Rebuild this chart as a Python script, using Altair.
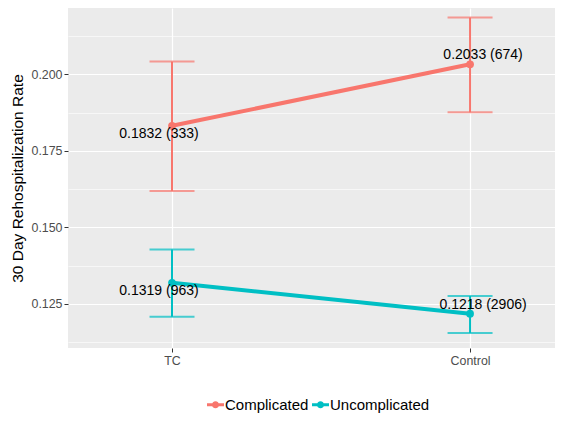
import altair as alt
import pandas as pd

groups = ["TC", "Control"]
complicated_rate = [0.1832, 0.2033]
complicated_n = [333, 674]
complicated_lo = [0.1619, 0.1876]
complicated_hi = [0.2042, 0.2186]
uncomplicated_rate = [0.1319, 0.1218]
uncomplicated_n = [963, 2906]
uncomplicated_lo = [0.1208, 0.1155]
uncomplicated_hi = [0.1428, 0.1276]
series = ["Complicated", "Uncomplicated"]
colors = ["#F8766D", "#00BFC4"]
y_ticks = [0.1125, 0.125, 0.1375, 0.150, 0.1625, 0.175, 0.1875, 0.200, 0.2125]

rows = []
for s, rate, n, lo, hi in [
    ("Complicated", complicated_rate, complicated_n, complicated_lo, complicated_hi),
    ("Uncomplicated", uncomplicated_rate, uncomplicated_n, uncomplicated_lo, uncomplicated_hi),
]:
    for i, (g, r, k, l, h) in enumerate(zip(groups, rate, n, lo, hi)):
        rows.append({"group": g, "gi": i, "series": s, "rate": r, "n": k, "lo": l, "hi": h,
                     "label": f"{r:.4f} ({k})"})
df = pd.DataFrame(rows)

FONT = "Liberation Sans"
x_scale = alt.Scale(domain=[-0.349, 1.285], nice=False, zero=False)
y_scale = alt.Scale(domain=[0.1106, 0.2217], nice=False, zero=False)
color_scale = alt.Scale(domain=series, range=colors)

is_major = "abs(datum.value*40 - round(datum.value*40)) < 0.01"

x_enc = alt.X("gi:Q", scale=x_scale,
              axis=alt.Axis(title=None, domain=False, grid=True, gridColor="white",
                            gridWidth=1.2, values=[0, 1],
                            labelExpr=f"datum.value < 0.5 ? '{groups[0]}' : '{groups[1]}'",
                            tickColor="#333333", tickSize=4,
                            labelColor="#4D4D4D", labelFontSize=12.4, labelFont=FONT,
                            labelPadding=2, labelAngle=0, labelFlush=False))

y_axis = alt.Axis(
    values=y_ticks, domain=False, grid=True, gridColor="white",
    gridWidth={"condition": {"test": is_major, "value": 1.2}, "value": 0.6},
    tickColor="#333333",
    tickSize={"condition": {"test": is_major, "value": 4}, "value": 0},
    labelExpr=f"({is_major}) ? format(datum.value, '.3f') : ''",
    labelColor="#4D4D4D", labelFontSize=12.4, labelFont=FONT, labelPadding=2,
    title="30 Day Rehospitalization Rate", titleFont=FONT, titleFontSize=15.5,
    titleFontWeight="normal", titleColor="black", titlePadding=5,
)

legend_path = ("M-1,-0.18H1V0.18H-1Z "
               "M0.42,0A0.42,0.42 0 1,1 -0.42,0A0.42,0.42 0 1,1 0.42,0Z")
color_enc = alt.Color(
    "series:N", scale=color_scale,
    legend=alt.Legend(title=None, orient="none", direction="horizontal",
                      legendX=139, legendY=388, symbolType=legend_path,
                      symbolSize=289, symbolStrokeWidth=0, symbolOpacity=1,
                      labelFont=FONT, labelFontSize=15, labelColor="black",
                      labelOffset=1, columnPadding=3, padding=0),
)

base = alt.Chart(df)

lines = base.mark_line(strokeWidth=4).encode(
    x=x_enc, y=alt.Y("rate:Q", scale=y_scale, axis=y_axis),
    color=color_enc, detail="series:N",
)
bars = base.mark_rule(strokeWidth=2).encode(
    x=x_enc, y=alt.Y("lo:Q", scale=y_scale), y2="hi:Q", color=color_enc,
)
caps_lo = base.mark_tick(thickness=2, size=45, orient="horizontal").encode(
    x=x_enc, y=alt.Y("lo:Q", scale=y_scale), color=color_enc,
)
caps_hi = base.mark_tick(thickness=2, size=45, orient="horizontal").encode(
    x=x_enc, y=alt.Y("hi:Q", scale=y_scale), color=color_enc,
)
points = base.mark_circle(size=60, opacity=1).encode(
    x=x_enc, y=alt.Y("rate:Q", scale=y_scale), color=color_enc,
)

text_tc = base.mark_text(font=FONT, fontSize=14, color="black", dx=-13, dy=8).encode(
    x=x_enc, y=alt.Y("rate:Q", scale=y_scale), text="label:N",
).transform_filter(alt.datum.gi == 0)
text_ctrl = base.mark_text(font=FONT, fontSize=14, color="black", dx=13, dy=-9).encode(
    x=x_enc, y=alt.Y("rate:Q", scale=y_scale), text="label:N",
).transform_filter(alt.datum.gi == 1)

chart = alt.layer(lines, bars, caps_lo, caps_hi, points, text_tc, text_ctrl).properties(
    width=487, height=340,
    autosize=alt.AutoSizeParams(type="none"),
    padding={"left": 60, "top": 0, "right": 0, "bottom": 66},
).configure_view(fill="#EBEBEB", stroke=None)

chart.save("out.html", embed_options={"renderer": "svg", "actions": False})
